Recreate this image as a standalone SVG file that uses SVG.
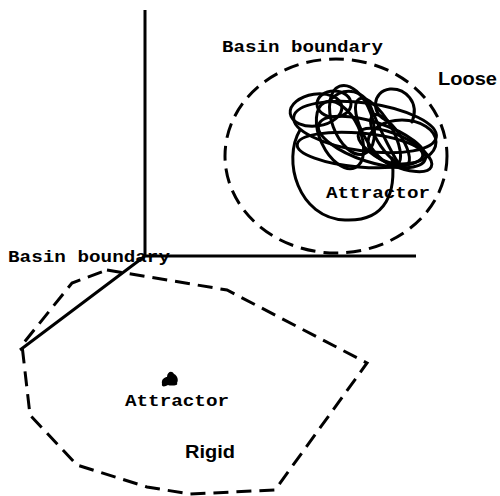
<svg xmlns="http://www.w3.org/2000/svg" width="500" height="496" viewBox="0 0 500 496">
<style>
.ax{fill:none;stroke:#000;stroke-width:3}
.dash{fill:none;stroke:#000;stroke-width:3;stroke-dasharray:15 8}
.sc{fill:none;stroke:#000;stroke-width:3;stroke-linecap:round}
.mono{font-family:"Liberation Mono","Courier New",monospace;font-weight:bold;font-size:17px;fill:#000}
.sans{font-family:"Liberation Sans",Arial,sans-serif;font-weight:bold;font-size:18px;fill:#000}
</style>
<rect width="500" height="496" fill="#fff"/>
<g id="axes">
<path class="ax" d="M145,10 V256 H416 M145,256 L20,350"/>
</g>
<g id="loose-basin">
<ellipse class="dash" cx="336" cy="156" rx="111" ry="97"/>
<text class="mono" x="222" y="52" textLength="161" lengthAdjust="spacingAndGlyphs">Basin boundary</text>
<text class="sans" x="438" y="85" textLength="59" lengthAdjust="spacingAndGlyphs">Loose</text>
</g>
<g id="loose-attractor">
<ellipse class="sc" cx="316" cy="110" rx="26" ry="16" transform="rotate(-8 316 110)"/>
<ellipse class="sc" cx="334" cy="104" rx="17" ry="13"/>
<ellipse class="sc" cx="365" cy="127" rx="72" ry="24" transform="rotate(8 365 127)"/>
<ellipse class="sc" cx="360" cy="150" rx="63" ry="17" transform="rotate(5 360 150)"/>
<ellipse class="sc" cx="372" cy="142" rx="56" ry="20" transform="rotate(18 372 142)"/>
<ellipse class="sc" cx="402" cy="142" rx="34" ry="22"/>
<path class="sc" d="M412,122 C420,102 405,88 390,89 C372,91 370,115 388,121"/>
<ellipse class="sc" cx="352" cy="120" rx="20" ry="36" transform="rotate(-20 352 120)"/>
<ellipse class="sc" cx="340" cy="135" rx="20" ry="36" transform="rotate(-25 340 135)"/>
<ellipse class="sc" cx="378" cy="132" rx="14" ry="38" transform="rotate(-30 378 132)"/>
<ellipse class="sc" cx="390" cy="140" rx="11" ry="30" transform="rotate(-35 390 140)"/>
<ellipse class="sc" cx="395" cy="150" rx="40" ry="15" transform="rotate(25 395 150)"/>
<path class="sc" d="M300,130 C282,160 298,218 345,220 C388,222 396,190 392,158"/>
<path class="sc" d="M330,100 C345,85 365,90 372,110 C380,130 395,160 402,168"/>
<text class="mono" x="326" y="198" textLength="104" lengthAdjust="spacingAndGlyphs">Attractor</text>
</g>
<g id="rigid-basin">
<polygon class="dash" points="107,270 227,290 367,363 275,490 190,494 147,487 77,465 30,415 22,345 72,283"/>
<text class="mono" x="8" y="262" textLength="162" lengthAdjust="spacingAndGlyphs">Basin boundary</text>
<text class="sans" x="185" y="458" textLength="50" lengthAdjust="spacingAndGlyphs">Rigid</text>
</g>
<g id="rigid-attractor">
<path d="M162,384 C161,379 165,377 167,377 C167,372 172,370 174,374 C177,375 179,380 177,383 C179,386 170,386 168,385 C165,387 161,387 162,384 Z" fill="#000"/>
<text class="mono" x="125" y="406" textLength="104" lengthAdjust="spacingAndGlyphs">Attractor</text>
</g>
</svg>
